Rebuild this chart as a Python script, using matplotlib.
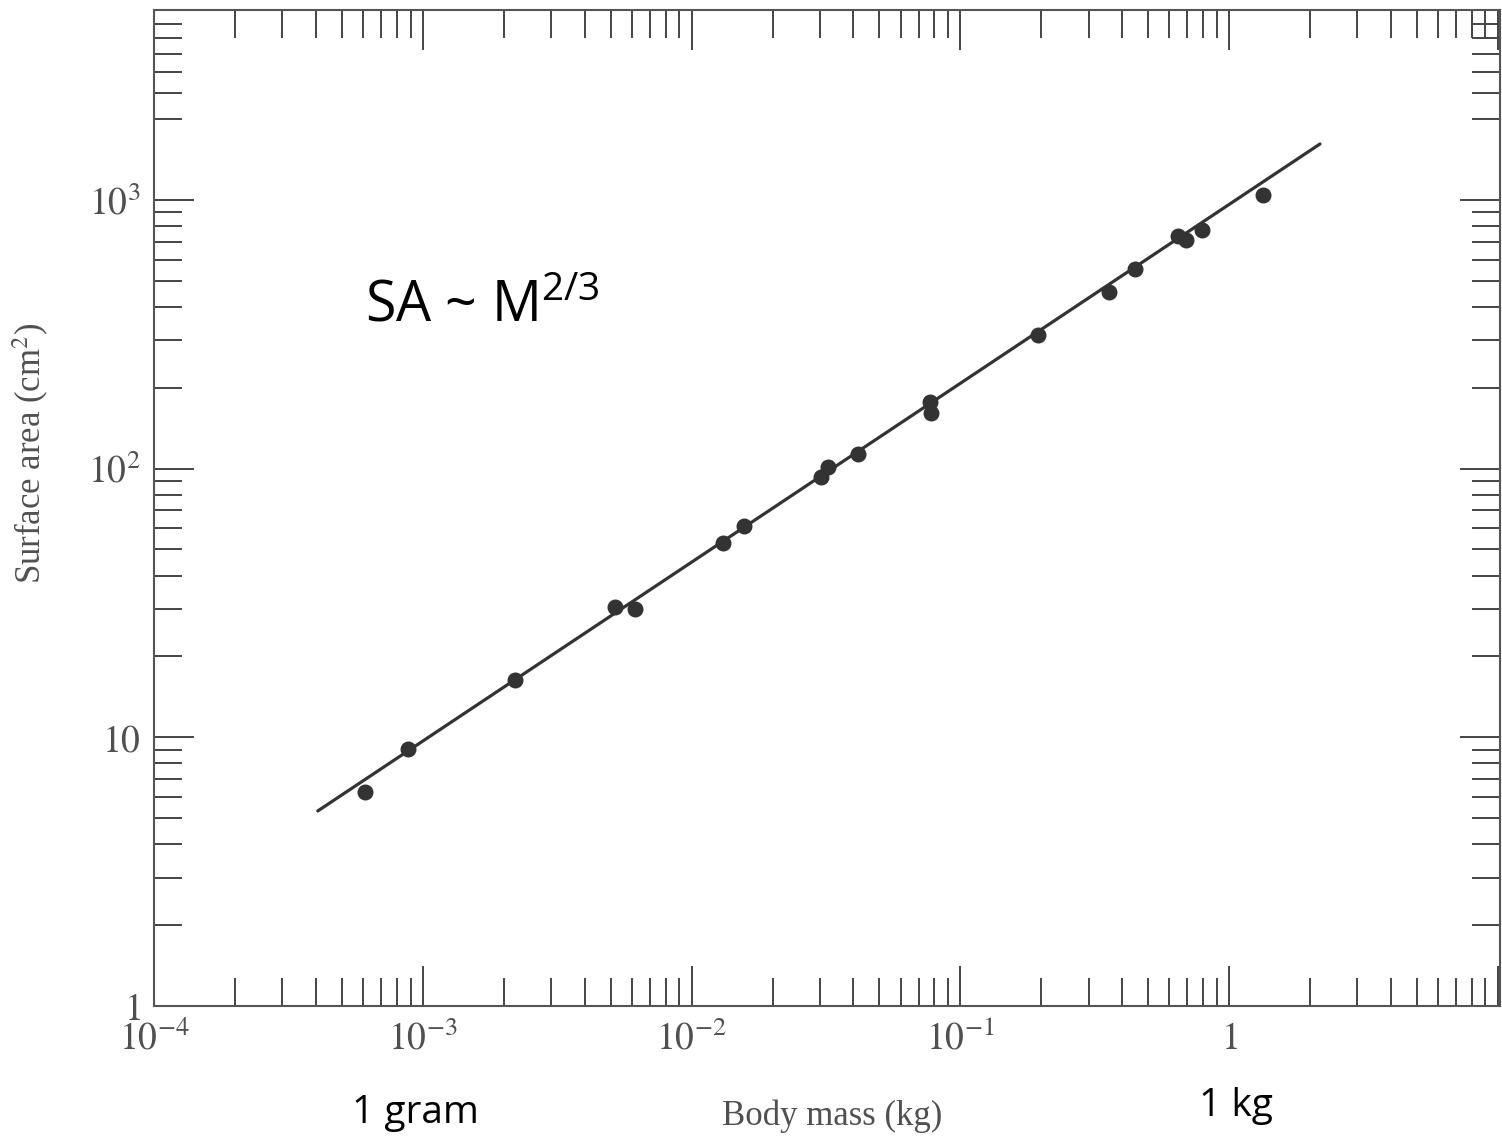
import matplotlib
matplotlib.use("Agg")
import matplotlib.pyplot as plt
from matplotlib.ticker import FixedLocator, FixedFormatter, NullFormatter

# ---- data ----
body_mass_kg = [6.08e-4, 8.79e-4, 2.20e-3, 5.19e-3, 6.15e-3, 0.0131, 0.0157,
                0.0303, 0.0321, 0.0416, 0.0771, 0.0778, 0.194, 0.357, 0.447,
                0.646, 0.692, 0.793, 1.337]
surface_area_cm2 = [6.26, 9.04, 16.3, 30.5, 30.0, 52.9, 61.1,
                    93.0, 101.4, 113.3, 177, 161, 314, 454, 553,
                    734, 709, 773, 1043]
fit_mass = [4.06e-4, 2.18]
fit_area = [5.32, 1615]

x_major = [1e-4, 1e-3, 1e-2, 1e-1, 1, 10]
x_major_labels = ['$10^{-4}$', '$10^{-3}$', '$10^{-2}$', '$10^{-1}$', '$1$', '']
y_major = [1, 10, 100, 1000]
y_major_labels = ['$1$', '$10$', '$10^{2}$', '$10^{3}$']
y_minor = [2, 3, 4, 5, 6, 7, 8, 9,
           20, 30, 40, 50, 60, 70, 80, 90,
           200, 300, 400, 500, 600, 700, 800, 900,
           2000, 2500, 3000, 3500, 4000, 4500]
x_minor = [m * 10.0 ** e for e in range(-4, 1) for m in range(2, 10)]

plt.rcParams['mathtext.fontset'] = 'stix'
plt.rcParams['mathtext.rm'] = 'Open Sans'

ink = '#333333'
label_grey = '#505050'

fig = plt.figure(figsize=(15.02, 11.37), dpi=100)
ax = fig.add_axes([0.1027, 0.1152, 0.8960, 0.8760])
ax.set_xscale('log')
ax.set_yscale('log')
ax.set_xlim(1e-4, 10.2)
ax.set_ylim(1, 5090)

ax.plot(fit_mass, fit_area, color=ink, lw=2.3, solid_capstyle='round')
ax.plot(body_mass_kg, surface_area_cm2, 'o', color=ink, ms=10.5, mec=ink)

ax.xaxis.set_major_locator(FixedLocator(x_major))
ax.xaxis.set_major_formatter(FixedFormatter(x_major_labels))
ax.xaxis.set_minor_locator(FixedLocator(x_minor))
ax.xaxis.set_minor_formatter(NullFormatter())
ax.yaxis.set_major_locator(FixedLocator(y_major))
ax.yaxis.set_major_formatter(FixedFormatter(y_major_labels))
ax.yaxis.set_minor_locator(FixedLocator(y_minor))
ax.yaxis.set_minor_formatter(NullFormatter())

ax.tick_params(which='both', direction='in', top=True, right=True,
               color='#444444', width=1.4)
ax.tick_params(which='major', length=29, labelsize=27, labelcolor=label_grey)
ax.tick_params(which='minor', length=20)
ax.tick_params(axis='x', which='major', pad=11)
ax.tick_params(axis='y', which='major', pad=10)

for sp in ax.spines.values():
    sp.set_color('#555555')
    sp.set_linewidth(1.5)

ax.set_xlabel('Body mass (kg)', fontsize=25, family='Liberation Serif',
              color=label_grey, va='center')
ax.xaxis.set_label_coords((832 - 154.3) / 1345.7, -(1116 - 1006) / 996.0)
ax.set_ylabel('Surface area (cm$^{2}$)', fontsize=25, family='Liberation Serif',
              color=label_grey, va='center')
ax.yaxis.set_label_coords(-(154.3 - 31) / 1345.7, (1006 - 453) / 996.0)

W, H = 1502.0, 1137.0
fig.text(365 / W, 1 - 322 / H, 'SA ~ M$^{\\mathrm{2/3}}$', fontsize=40,
         family='Open Sans', math_fontfamily='custom', color='black',
         ha='left', va='baseline')
fig.text(352 / W, 1 - 1123 / H, '1 gram', fontsize=28, family='Open Sans',
         color='black', ha='left', va='baseline')
fig.text(1199 / W, 1 - 1116 / H, '1 kg', fontsize=28, family='Open Sans',
         color='black', ha='left', va='baseline')

fig.savefig('out.png', dpi=100)
